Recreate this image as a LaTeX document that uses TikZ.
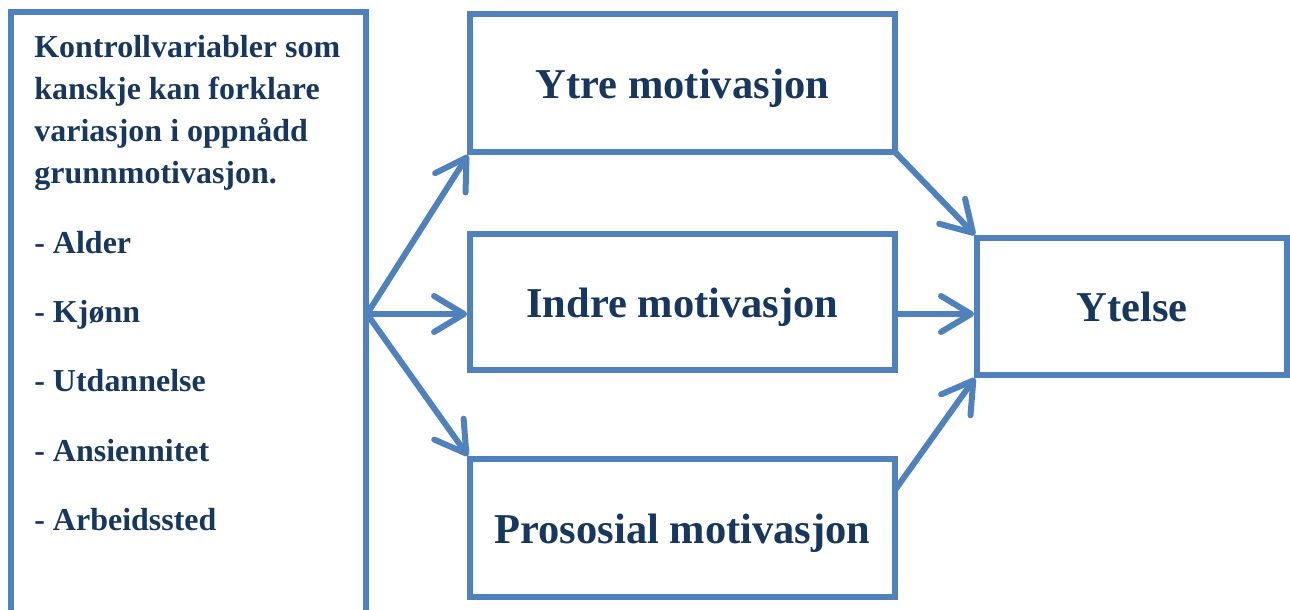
\documentclass[tikz,border=0pt]{standalone}
\usepackage{fontspec}
\setmainfont{Liberation Serif}
\usetikzlibrary{arrows.meta,fit}
\definecolor{linjeblaa}{HTML}{4F81BD}
\definecolor{tekstblaa}{HTML}{17375E}
\tikzset{
  boks/.style={draw=linjeblaa, line width=0.12cm, inner sep=0pt, outer sep=0pt,
    text=tekstblaa, font=\fontsize{24.2}{28}\selectfont\bfseries,
    text height=17.4pt, text depth=0pt},
  pil/.style={draw=linjeblaa, line width=0.12cm, line cap=round,
    -{Straight Barb[length=0.6cm,width=0.72cm,round]}},
}
\begin{document}
\begin{tikzpicture}[x=0.02cm, y=-0.02cm]
\useasboundingbox (0,0) rectangle (1290,609);
\clip (0,0) rectangle (1290,609);
% Boks til venstre, fortsetter under kanten
\node[boks, fit={(11,12) (366,660)}] (kontroll) {};
\node[anchor=north west, inner sep=0pt, text=tekstblaa, align=left,
  font=\fontsize{18.2}{23.9}\selectfont\bfseries] (variabler) at (34,35)
  {Kontrollvariabler som\\ kanskje kan forklare\\ variasjon i oppnådd\\ grunnmotivasjon.\\[0.55cm]
   - Alder\\[0.55cm] - Kjønn\\[0.55cm] - Utdannelse\\[0.55cm] - Ansiennitet\\[0.55cm] - Arbeidssted};

% De tre motivasjonsboksene
\node[boks, minimum width=8.5cm, minimum height=2.76cm] (ytre) at (682.5,83) {Ytre motivasjon};
\node[boks, minimum width=8.5cm, minimum height=2.72cm] (indre) at (682.5,302) {Indre motivasjon};
\node[boks, minimum width=8.5cm, minimum height=2.76cm] (prososial) at (682.5,528) {Prososial motivasjon};
\node[boks, minimum width=6.2cm, minimum height=2.74cm] (ytelse) at (1132,306.5) {Ytelse};

% Piler ut fra venstre boks
\coordinate (kilde) at (367,314);
\draw[pil] (kilde) -- ([shift={(-2,3)}]ytre.south west);
\draw[pil] (kilde) -- ([xshift=-0.06cm]indre.west |- kilde);
\draw[pil] (kilde) -- ([shift={(-2,-3)}]prososial.north west);

% Piler inn mot ytelse
\coordinate (pstart) at (895,490);
\draw[pil] (ytre.south east) -- ([shift={(-2,-3)}]ytelse.north west);
\draw[pil] (indre.east |- kilde) -- ([xshift=-0.06cm]ytelse.west |- kilde);
\draw[pil] (pstart) -- ([shift={(-2,3)}]ytelse.south west);
\end{tikzpicture}
\end{document}
